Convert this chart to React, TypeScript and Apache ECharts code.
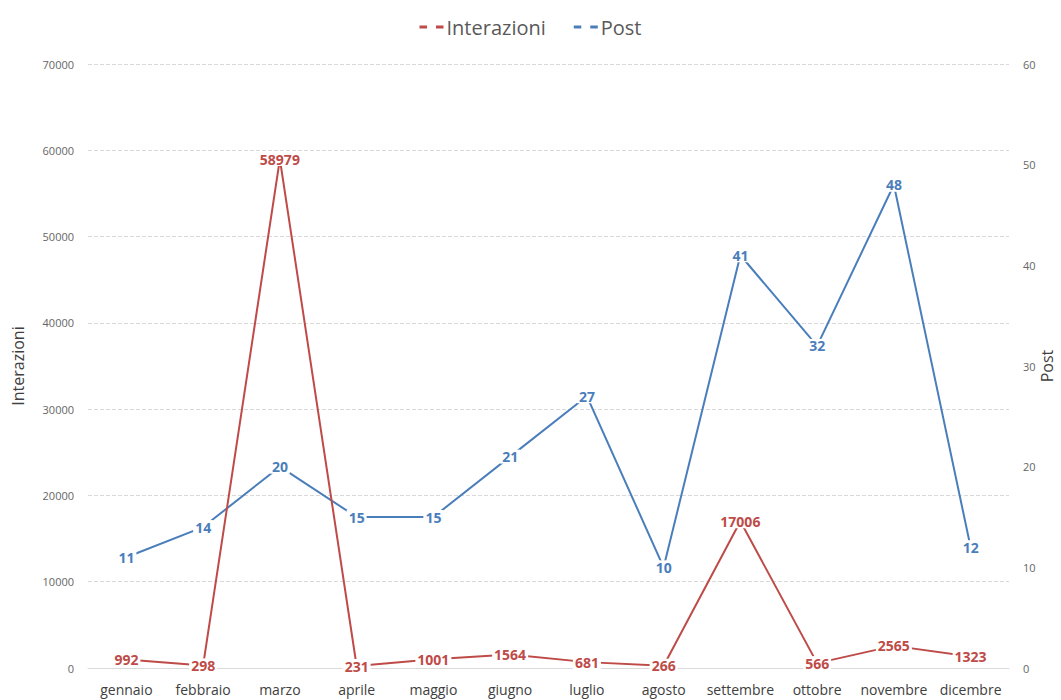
import React, { useEffect, useRef } from "react";
import * as echarts from "echarts";

const months = ["gennaio", "febbraio", "marzo", "aprile", "maggio", "giugno", "luglio", "agosto", "settembre", "ottobre", "novembre", "dicembre"];
const interazioni = [992, 298, 58979, 231, 1001, 1564, 681, 266, 17006, 566, 2565, 1323];
const post = [11, 14, 20, 15, 15, 21, 27, 10, 41, 32, 48, 12];

const RED = "#BE4B48";
const BLUE = "#4A7EBB";
const FONT = "'Open Sans', 'Noto Sans', sans-serif";
const dashIcon = "path://M0,0h5v2h-5zM11,0h5v2h-5z";

export default function App() {
  const ref = useRef<HTMLDivElement>(null);
  useEffect(() => {
    if (!ref.current) return;
    const chart = echarts.init(ref.current, undefined, { renderer: "svg" });
    const label = (color: string) => ({
      show: true,
      position: "inside",
      color,
      fontFamily: FONT,
      fontWeight: "bold",
      fontSize: 14,
      backgroundColor: "#ffffff",
      padding: [0, 2],
    });
    chart.setOption({
      animation: false,
      backgroundColor: "#ffffff",
      textStyle: { fontFamily: FONT },
      legend: {
        top: 12,
        left: "center",
        itemWidth: 26,
        itemHeight: 3,
        itemGap: 28,
        textStyle: { fontSize: 20, color: "#595959", fontFamily: FONT, padding: [0, 0, 0, -3] },
        data: [
          { name: "Interazioni", icon: dashIcon, itemStyle: { color: RED } },
          { name: "Post", icon: dashIcon, itemStyle: { color: BLUE } },
        ],
      },
      grid: { left: 88, right: 52, top: 64, bottom: 32, containLabel: false, outerBoundsMode: "none" },
      xAxis: {
        type: "category",
        data: months,
        boundaryGap: true,
        axisLine: { show: true, lineStyle: { color: "#D9D9D9" } },
        axisTick: { show: false },
        axisLabel: { color: "#404040", fontSize: 14, margin: 14, fontFamily: FONT, interval: 0 },
      },
      yAxis: [
        {
          type: "value",
          min: 0,
          max: 70000,
          interval: 10000,
          name: "Interazioni",
          nameLocation: "middle",
          nameGap: 62,
          nameMoveOverlap: false,
          nameTextStyle: { fontSize: 16, color: "#404040", fontFamily: FONT },
          axisLine: { show: false },
          axisTick: { show: false },
          axisLabel: { color: "#666666", fontSize: 11, margin: 14, fontFamily: FONT, formatter: (v: number) => String(v) },
          splitLine: { show: true, lineStyle: { color: "#D9D9D9", type: "dashed" } },
        },
        {
          type: "value",
          min: 0,
          max: 60,
          interval: 10,
          name: "Post",
          nameLocation: "middle",
          nameGap: 30,
          nameRotate: 90,
          nameMoveOverlap: false,
          nameTextStyle: { fontSize: 16, color: "#404040", fontFamily: FONT },
          axisLine: { show: false },
          axisTick: { show: false },
          axisLabel: { color: "#666666", fontSize: 11, margin: 14, fontFamily: FONT },
          splitLine: { show: false },
        },
      ],
      series: [
        {
          name: "Interazioni",
          type: "line",
          yAxisIndex: 0,
          data: interazioni,
          symbol: "circle",
          symbolSize: 0.1,
          showSymbol: true,
          lineStyle: { color: RED, width: 2 },
          itemStyle: { color: RED },
          label: label(RED),
          z: 3,
        },
        {
          name: "Post",
          type: "line",
          yAxisIndex: 1,
          data: post,
          symbol: "circle",
          symbolSize: 0.1,
          showSymbol: true,
          lineStyle: { color: BLUE, width: 2 },
          itemStyle: { color: BLUE },
          label: label(BLUE),
          z: 2,
        },
      ],
    });
    return () => chart.dispose();
  }, []);
  return <div ref={ref} style={{ width: 1061, height: 700, position: "absolute", left: 0, top: 0 }} />;
}
